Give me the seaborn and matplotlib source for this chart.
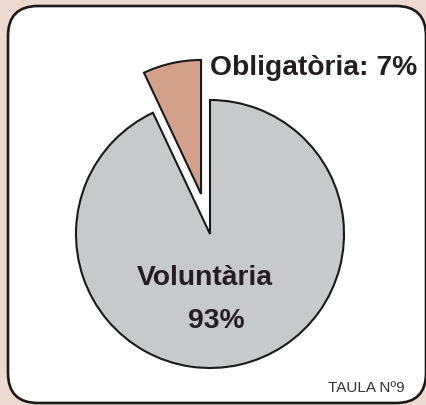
import matplotlib
matplotlib.use("Agg")
import matplotlib.pyplot as plt
from matplotlib.patches import FancyBboxPatch
import seaborn as sns

# Data
categories = ["Obligatòria", "Voluntària"]
values = [7, 93]
colors = ["#d3a08b", "#c8c9cb"]

sns.set_theme(style="white")
plt.rcParams["font.family"] = ["Liberation Sans", "DejaVu Sans"]

W, H = 427, 405
fig = plt.figure(figsize=(W / 100, H / 100), dpi=100)
fig.patch.set_facecolor("#edd9cf")
ax = fig.add_axes([0, 0, 1, 1])
ax.set_xlim(0, W)
ax.set_ylim(0, H)
ax.set_aspect("equal")
ax.axis("off")

# Rounded white panel
box = FancyBboxPatch((8, 2), 418, 397,
                     boxstyle="round,pad=0,rounding_size=30",
                     facecolor="white", edgecolor="#1a1a1a", linewidth=1.9,
                     zorder=1)
ax.add_patch(box)

radius = 134
center = (210, 171)
offset = 41
ax.pie(values, colors=colors, startangle=90, counterclock=True,
       radius=radius, center=center, explode=[offset, 0],
       wedgeprops=dict(edgecolor="#1a1a1a", linewidth=1.5, zorder=2),
       frame=True)
ax.set_xlim(0, W)
ax.set_ylim(0, H)
ax.axis("off")

ax.text(210, 330, f"{categories[0]}: {values[0]}%", fontsize=20.3,
        fontweight="bold", color="#231f20", ha="left", va="baseline", zorder=3)
ax.text(205, 120, categories[1], fontsize=20.3, fontweight="bold",
        color="#231f20", ha="center", va="baseline", zorder=3)
ax.text(216, 77, f"{values[1]}%", fontsize=20.3, fontweight="bold",
        color="#231f20", ha="center", va="baseline", zorder=3)
ax.text(405, 13, "TAULA Nº9", fontsize=11, color="#333333",
        ha="right", va="baseline", zorder=3)

fig.savefig("out.png", dpi=100, facecolor=fig.get_facecolor())
